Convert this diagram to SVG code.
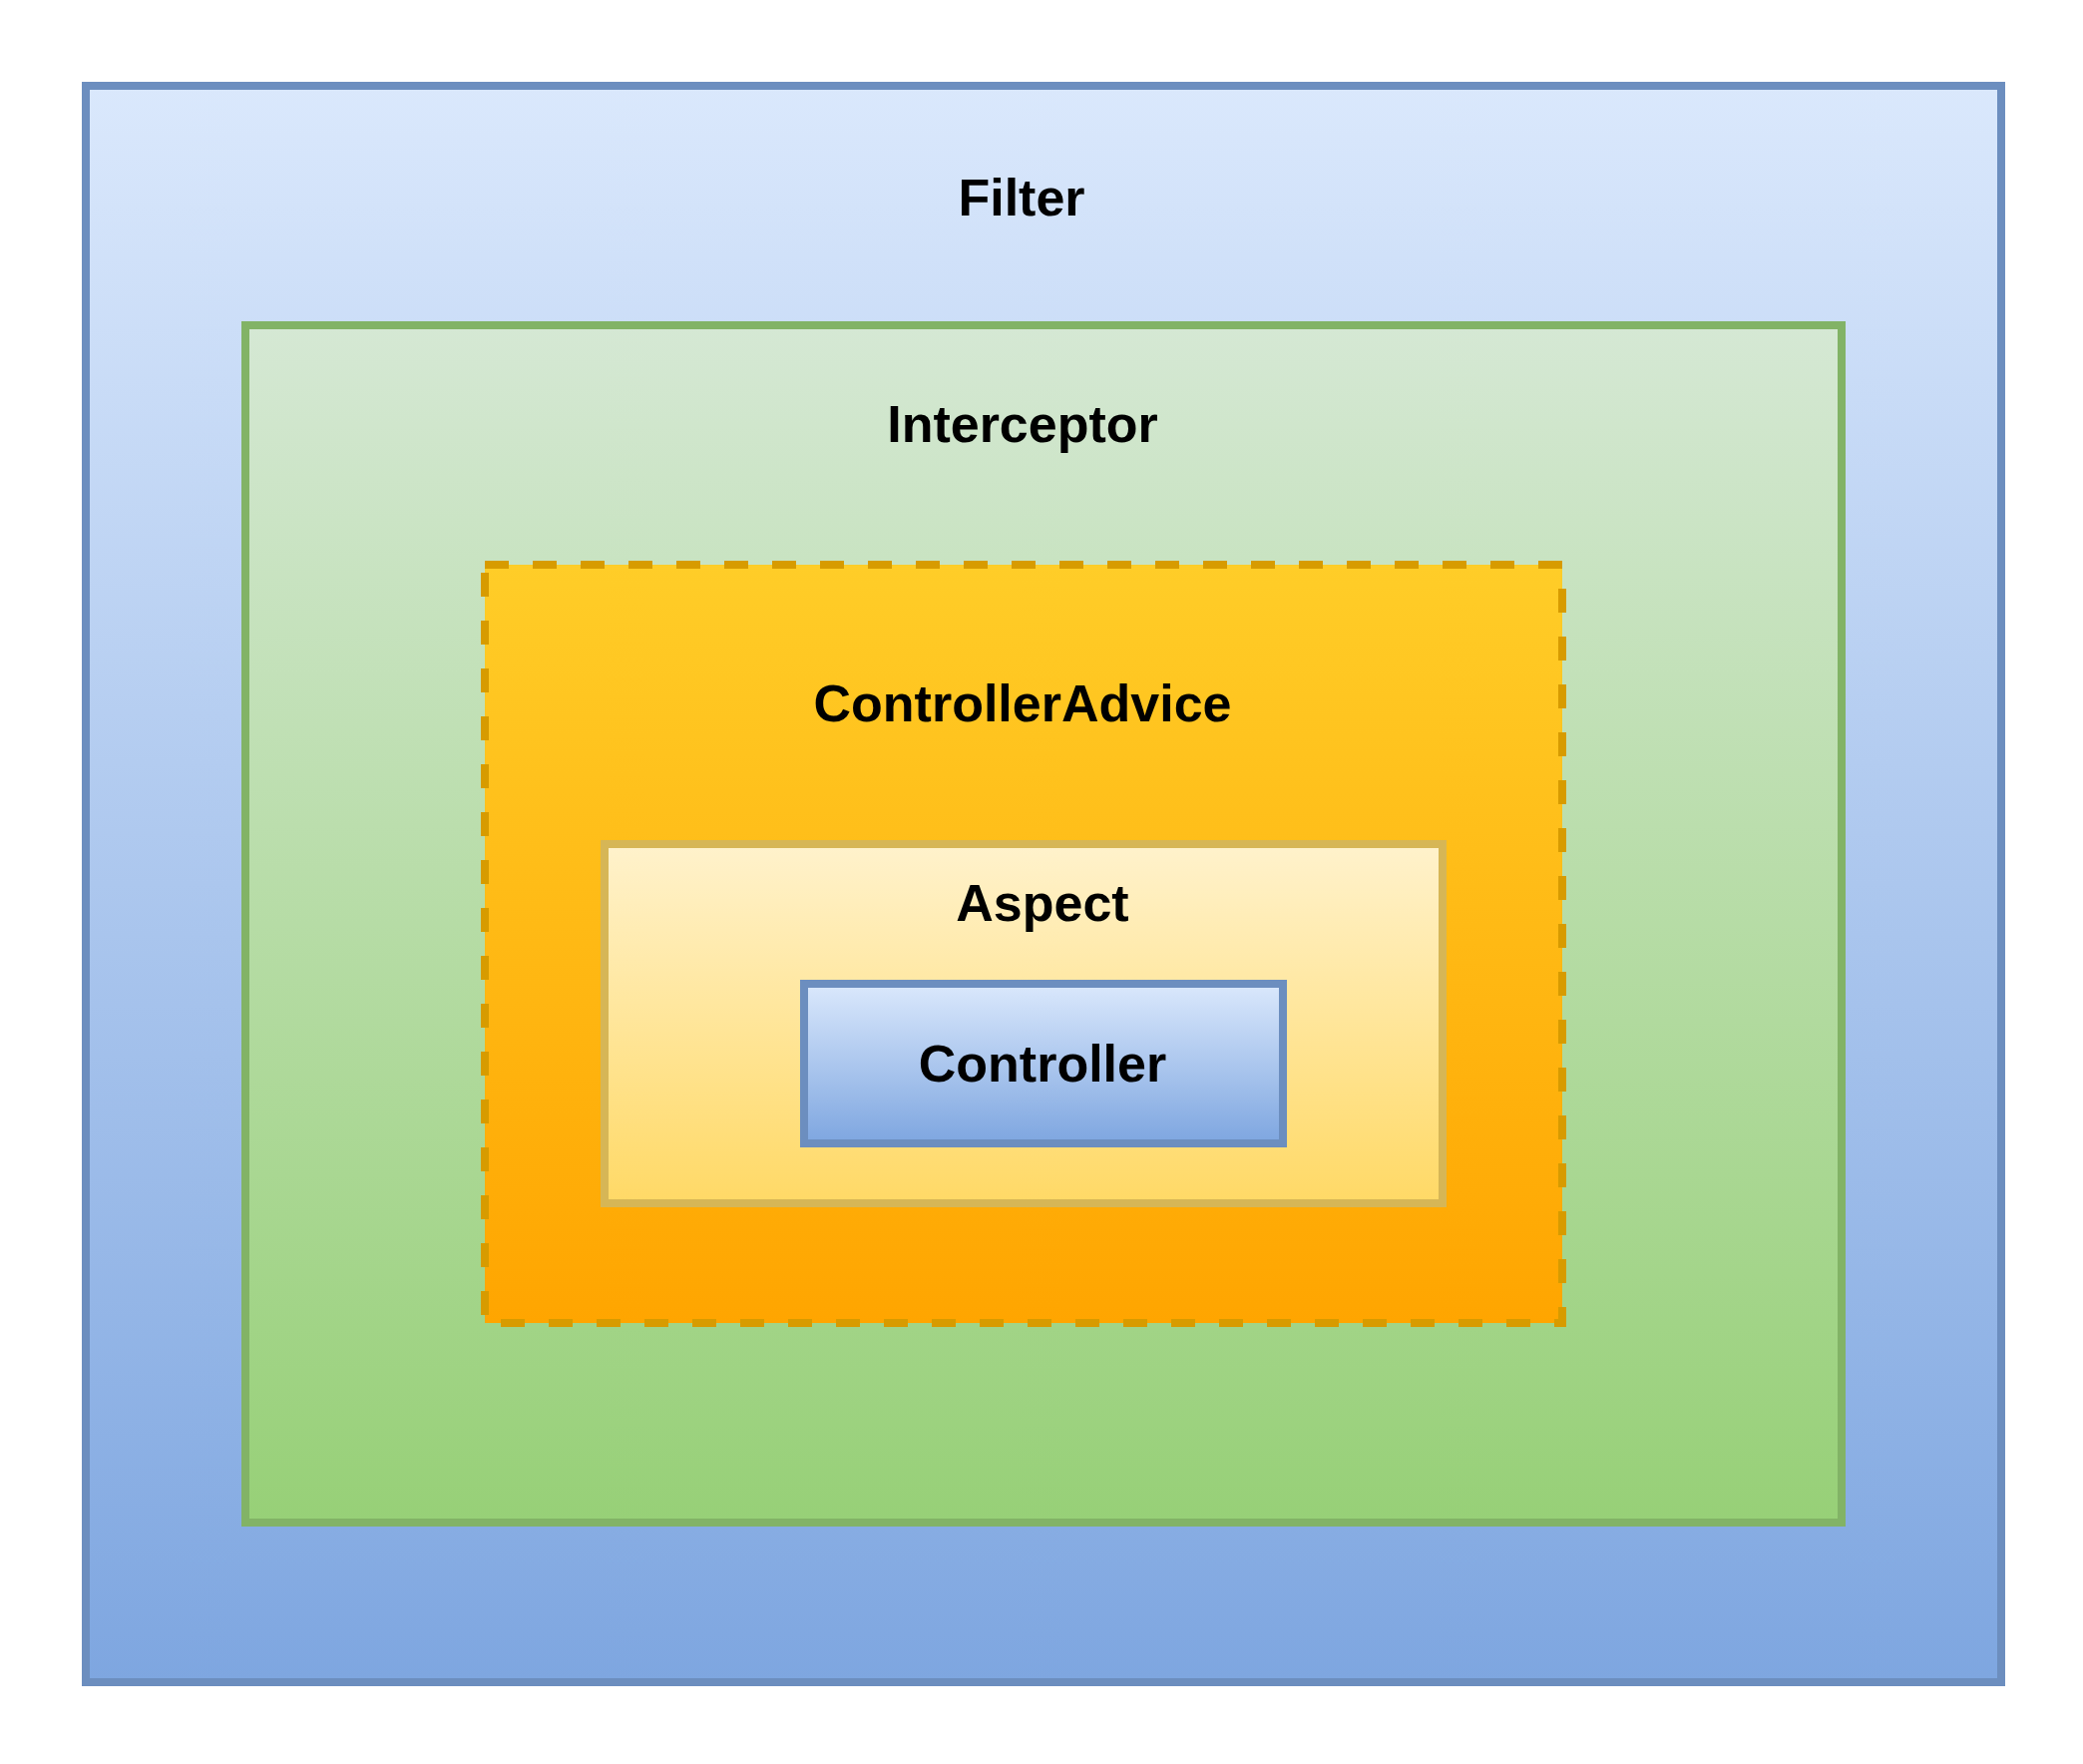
<svg xmlns="http://www.w3.org/2000/svg" width="2088" height="1768" viewBox="0 0 2088 1768">
  <defs>
    <linearGradient id="gBlue" x1="0" y1="0" x2="0" y2="1">
      <stop offset="0" stop-color="#dae8fc"/>
      <stop offset="1" stop-color="#7ea6e0"/>
    </linearGradient>
    <linearGradient id="gGreen" x1="0" y1="0" x2="0" y2="1">
      <stop offset="0" stop-color="#d5e8d4"/>
      <stop offset="1" stop-color="#97d077"/>
    </linearGradient>
    <linearGradient id="gOrange" x1="0" y1="0" x2="0" y2="1">
      <stop offset="0" stop-color="#ffcd28"/>
      <stop offset="1" stop-color="#ffa500"/>
    </linearGradient>
    <linearGradient id="gYellow" x1="0" y1="0" x2="0" y2="1">
      <stop offset="0" stop-color="#fff2cc"/>
      <stop offset="1" stop-color="#ffd966"/>
    </linearGradient>
  </defs>
  <style>
    rect { stroke-width: 8; }
    .blue { fill: url(#gBlue); stroke: #6c8ebf; }
    .green { fill: url(#gGreen); stroke: #82b366; }
    .orange { fill: url(#gOrange); stroke: #d79b00; stroke-dasharray: 24 24; }
    .yellow { fill: url(#gYellow); stroke: #d6b656; }
    text { font-family: "Liberation Sans", Arial, sans-serif; font-weight: bold; font-size: 52px; fill: #000000; text-anchor: middle; }
  </style>
  <rect x="0" y="0" width="2088" height="1768" fill="#ffffff" style="stroke:none"/>
  <g id="filter">
    <rect class="blue" x="86" y="86" width="1920" height="1600"/>
    <text x="1024" y="216">Filter</text>
  </g>
  <g id="interceptor">
    <rect class="green" x="246" y="326" width="1600" height="1200"/>
    <text x="1025" y="443">Interceptor</text>
  </g>
  <g id="controllerAdvice">
    <rect class="orange" x="486" y="566" width="1080" height="760"/>
    <text x="1025" y="723">ControllerAdvice</text>
  </g>
  <g id="aspect">
    <rect class="yellow" x="606" y="846" width="840" height="360"/>
    <text x="1045" y="923">Aspect</text>
  </g>
  <g id="controller">
    <rect class="blue" x="806" y="986" width="480" height="160"/>
    <text x="1045" y="1084">Controller</text>
  </g>
  <g id="connectors"/>
</svg>
